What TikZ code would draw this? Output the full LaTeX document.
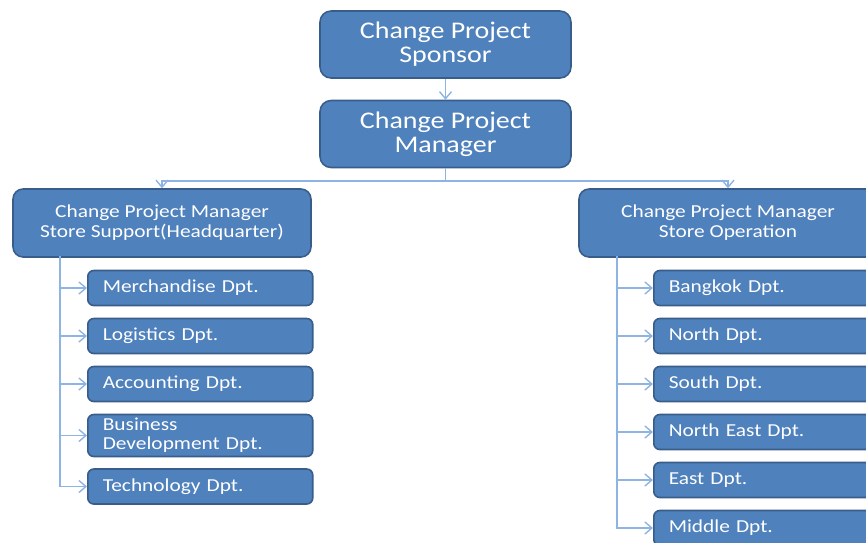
\documentclass[tikz,border=0pt]{standalone}
\usepackage{fontspec}
\setmainfont[FakeStretch=1.17]{Carlito}
\usepackage{xcolor}
\usetikzlibrary{arrows.meta,positioning}
\definecolor{boxfill}{HTML}{4F81BD}
\definecolor{boxline}{HTML}{385D8A}
\definecolor{linkblue}{HTML}{8EB4E3}
\tikzset{
  headbox/.style={draw=boxline,fill=boxfill,line width=0.9pt,
                  rounded corners=0.22cm,text=white,align=center,
                  minimum width=5.02cm,minimum height=1.34cm,inner sep=2pt,
                  font=\fontsize{13.6}{13.8}\selectfont},
  unitbox/.style={draw=boxline,fill=boxfill,line width=0.9pt,
                  rounded corners=0.2cm,text=white,align=center,
                  minimum width=5.96cm,minimum height=1.36cm,inner sep=2pt,
                  font=\fontsize{10.4}{11.4}\selectfont},
  deptbox/.style={draw=boxline,fill=boxfill,line width=0.9pt,
                  rounded corners=0.12cm,text=white,align=left,anchor=west,
                  text width=3.9cm,minimum height=0.7cm,inner xsep=0.3cm,inner ysep=1pt,
                  font=\fontsize{10.4}{10.8}\selectfont},
  link/.style={-{Straight Barb[length=0.14cm,width=0.24cm]},draw=linkblue,line width=0.8pt}
}
\begin{document}
\begin{tikzpicture}[x=0.02cm,y=-0.02cm]
  \useasboundingbox (0,0) rectangle (866,542);
  \clip (0,0) rectangle (866,542);

  \node[headbox] (sponsor) at (445.5,44.5) {Change Project\\Sponsor};
  \node[headbox] (mgr) at (445.5,134) {Change Project\\Manager};

  \node[unitbox] (hq) at (162,223) {Change Project Manager\\Store Support(Headquarter)};
  \node[unitbox] (ops) at (728,223) {Change Project Manager\\Store Operation};

  % store support departments
  \node[deptbox] (merch) at (87,288) {Merchandise Dpt.};
  \node[deptbox] (logis) at (87,336) {Logistics Dpt.};
  \node[deptbox] (acct) at (87,384) {Accounting Dpt.};
  \node[deptbox,minimum height=0.84cm] (busdev) at (87,435.5) {Business\\Development Dpt.};
  \node[deptbox] (tech) at (87,486.5) {Technology Dpt.};

  % store operation departments
  \node[deptbox] (bkk) at (653,288) {Bangkok Dpt.};
  \node[deptbox] (north) at (653,336) {North Dpt.};
  \node[deptbox] (south) at (653,384) {South Dpt.};
  \node[deptbox] (neast) at (653,432) {North East Dpt.};
  \node[deptbox] (east) at (653,480) {East Dpt.};
  \node[deptbox] (middle) at (653,528) {Middle Dpt.};

  \coordinate (split) at (445.5,181);
  \coordinate (ltrunk) at (60,256);
  \coordinate (rtrunk) at (617,256);

  \draw[link] (sponsor) -- (mgr);
  \draw[link] (mgr.south) -- (split) -| (hq.north);
  \draw[link] (split) -| (ops.north);

  \foreach \d in {merch,logis,acct,busdev,tech}
    \draw[link] (ltrunk) |- (\d.west);
  \foreach \d in {bkk,north,south,neast,east,middle}
    \draw[link] (rtrunk) |- (\d.west);
\end{tikzpicture}
\end{document}
